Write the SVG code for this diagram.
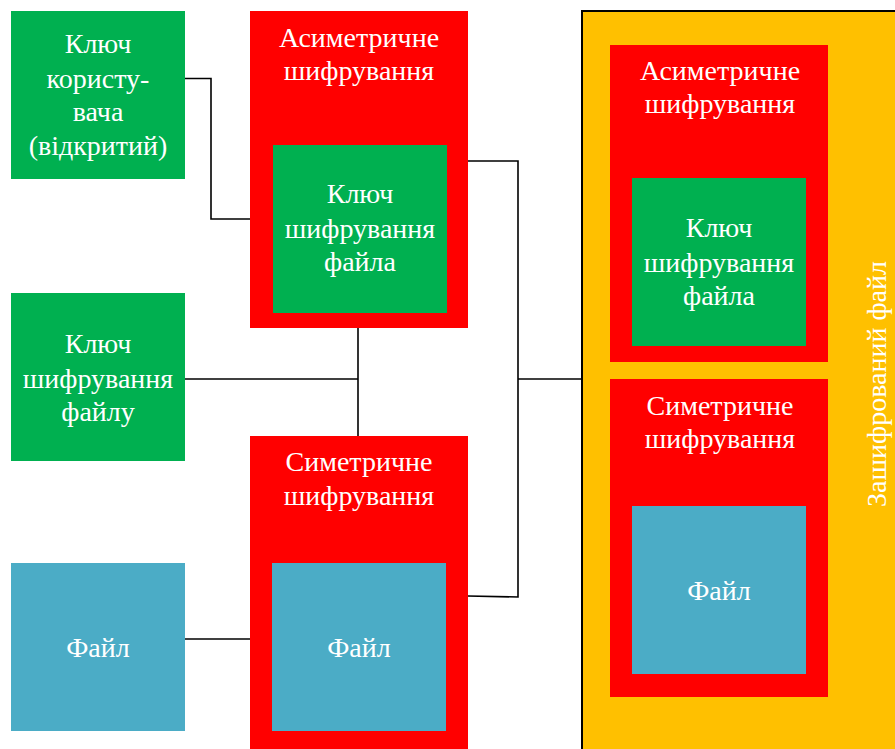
<svg xmlns="http://www.w3.org/2000/svg" width="895" height="749" viewBox="0 0 895 749">
<style>
.green{fill:#00B050}
.red{fill:#FF0000}
.blue{fill:#4BACC6}
.yellow{fill:#FFC000;stroke:#000;stroke-width:2}
.t{font-family:'Liberation Serif','DejaVu Serif',serif;font-size:28px;fill:#fff;text-anchor:middle}
.conn{fill:none;stroke:#000;stroke-width:1.6}
</style>
<rect width="895" height="749" fill="#fff"/>
<g id="encrypted-file">
<rect class="yellow" x="582" y="11" width="330" height="760"/>
<text class="t" transform="translate(886,384) rotate(-90)">Зашифрований файл</text>
</g>
<g id="connectors">
<polyline class="conn" points="185,78.5 211,78.5 211,219 250,219"/>
<polyline class="conn" points="185,379 358,379"/>
<polyline class="conn" points="358,328 358,436"/>
<polyline class="conn" points="185,639 250,639"/>
<polyline class="conn" points="468,161 518,161 518,597 468,596"/>
<polyline class="conn" points="518,379 582,379"/>
</g>
<g id="user-key">
<rect class="green" x="11" y="11" width="174" height="168"/>
<text class="t" x="98" y="53">Ключ</text>
<text class="t" x="98" y="88">користу-</text>
<text class="t" x="98" y="121">вача</text>
<text class="t" x="98" y="155">(відкритий)</text>
</g>
<g id="file-key">
<rect class="green" x="11" y="293" width="174" height="168"/>
<text class="t" x="98" y="353">Ключ</text>
<text class="t" x="98" y="388">шифрування</text>
<text class="t" x="98" y="421">файлу</text>
</g>
<g id="file">
<rect class="blue" x="11" y="563" width="174" height="168"/>
<text class="t" x="98" y="657">Файл</text>
</g>
<g id="asym">
<rect class="red" x="250" y="11" width="218" height="317"/>
<text class="t" x="359" y="47">Асиметричне</text>
<text class="t" x="359" y="80">шифрування</text>
</g>
<g id="asym-key">
<rect class="green" x="273" y="145" width="174" height="168"/>
<text class="t" x="360" y="203">Ключ</text>
<text class="t" x="360" y="238">шифрування</text>
<text class="t" x="360" y="271">файла</text>
</g>
<g id="sym">
<rect class="red" x="250" y="436" width="218" height="313"/>
<text class="t" x="359" y="471">Симетричне</text>
<text class="t" x="359" y="505">шифрування</text>
</g>
<g id="sym-file">
<rect class="blue" x="272" y="563" width="174" height="168"/>
<text class="t" x="359" y="657">Файл</text>
</g>
<g id="out-asym">
<rect class="red" x="610" y="45" width="218" height="317"/>
<text class="t" x="720" y="80">Асиметричне</text>
<text class="t" x="720" y="113">шифрування</text>
</g>
<g id="out-asym-key">
<rect class="green" x="632" y="178" width="174" height="168"/>
<text class="t" x="719" y="237">Ключ</text>
<text class="t" x="719" y="272">шифрування</text>
<text class="t" x="719" y="305">файла</text>
</g>
<g id="out-sym">
<rect class="red" x="610" y="379" width="218" height="318"/>
<text class="t" x="720" y="415">Симетричне</text>
<text class="t" x="720" y="448">шифрування</text>
</g>
<g id="out-sym-file">
<rect class="blue" x="632" y="506" width="174" height="168"/>
<text class="t" x="719" y="600">Файл</text>
</g>
</svg>
